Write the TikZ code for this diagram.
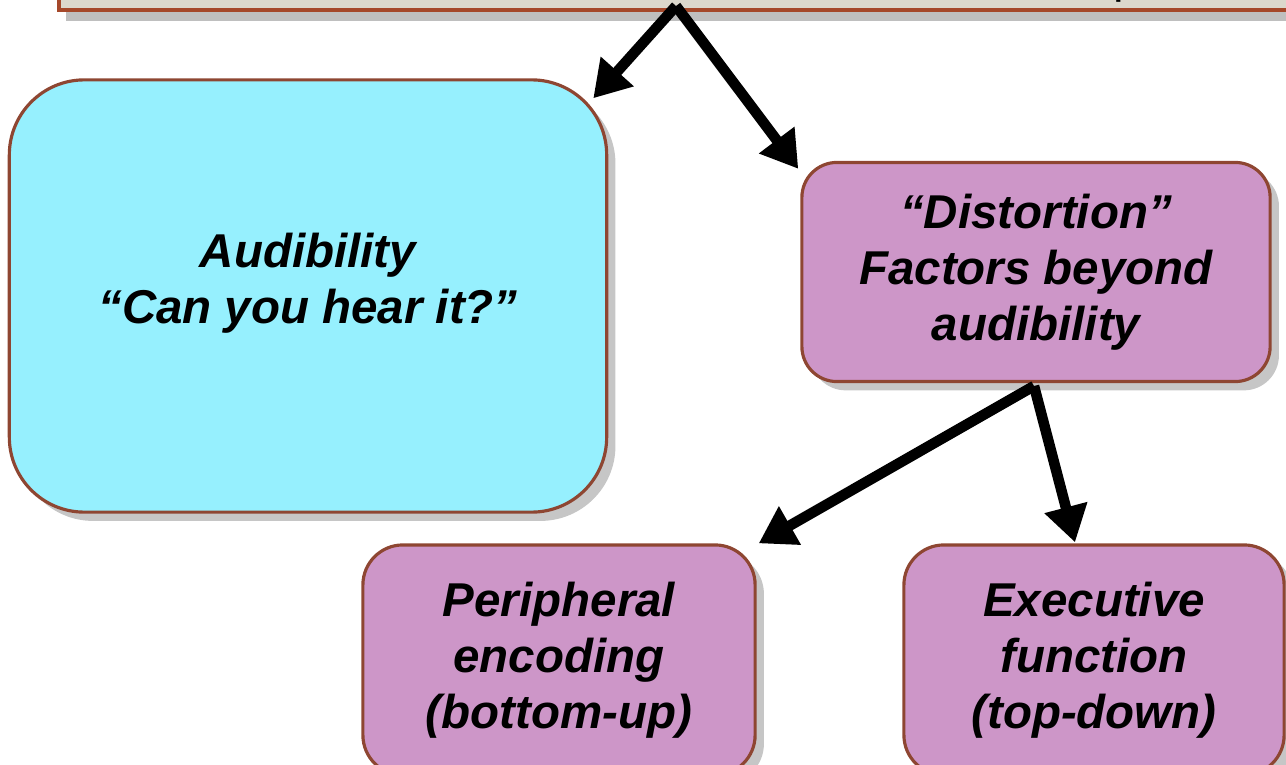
\documentclass[tikz,border=0pt]{standalone}
\usepackage{fontspec}
\setmainfont{Liberation Sans}
\usetikzlibrary{arrows.meta,shadows,calc}

\definecolor{edgebrown}{HTML}{8E4632}
\definecolor{topedge}{HTML}{A5482A}
\definecolor{topfill}{HTML}{DCD8CC}
\definecolor{audcyan}{HTML}{96F0FE}
\definecolor{distmauve}{HTML}{CD96C8}

\begin{document}
\begin{tikzpicture}[x=0.01cm,y=-0.01cm,
    box/.style={draw=edgebrown, line width=0.9pt, align=center,
      font=\fontsize{13.5}{16}\selectfont\bfseries\itshape,
      drop shadow={opacity=0.45, shadow xshift=2.5pt, shadow yshift=-2.5pt}},
    flow/.style={line width=3pt, -{Triangle[length=0.36cm,width=0.42cm]}}]
  \useasboundingbox (0,0) rectangle (1286,764);
  \clip (0,0) rectangle (1286,764);

  % banner at the top, mostly cut away
  \node[draw=topedge, fill=topfill, line width=1pt, minimum width=13cm, minimum height=1cm,
    drop shadow={opacity=0.5, shadow xshift=2pt, shadow yshift=-3pt},
    anchor=south west] (top) at (57,12) {};
  \node[font=\fontsize{13.5}{16}\selectfont, anchor=base] (topword) at (1133,-7) {p,};

  % boxes
  \node[box, fill=audcyan, minimum width=5.97cm, minimum height=4.32cm,
    rounded corners=0.75cm, text depth=0.36cm] (aud) at (308,296)
    {Audibility\\``Can you hear it?''};
  \node[box, fill=distmauve, minimum width=4.68cm, minimum height=2.19cm,
    rounded corners=0.35cm] (dist) at (1036,272)
    {``Distortion''\\Factors beyond\\audibility};
  \node[box, fill=distmauve, minimum width=3.92cm, minimum height=2.3cm,
    rounded corners=0.4cm] (peri) at (559,660)
    {Peripheral\\encoding\\(bottom-up)};
  \node[box, fill=distmauve, minimum width=3.8cm, minimum height=2.3cm,
    rounded corners=0.4cm] (exec) at (1094,660)
    {Executive\\function\\(top-down)};

  % arrows
  \coordinate (split) at (676,6);
  \coordinate (fork) at (1034,386);
  \draw[flow] (split) -- ($(aud.north east)+(-15,20)$);
  \draw[flow] (split) -- ($(dist.north west)+(-2,8)$);
  \draw[flow] (fork) -- ($(peri.north east)+(2,0)$);
  \draw[flow] (fork) -- ($(exec.north)+(-19,-1)$);
\end{tikzpicture}
\end{document}
